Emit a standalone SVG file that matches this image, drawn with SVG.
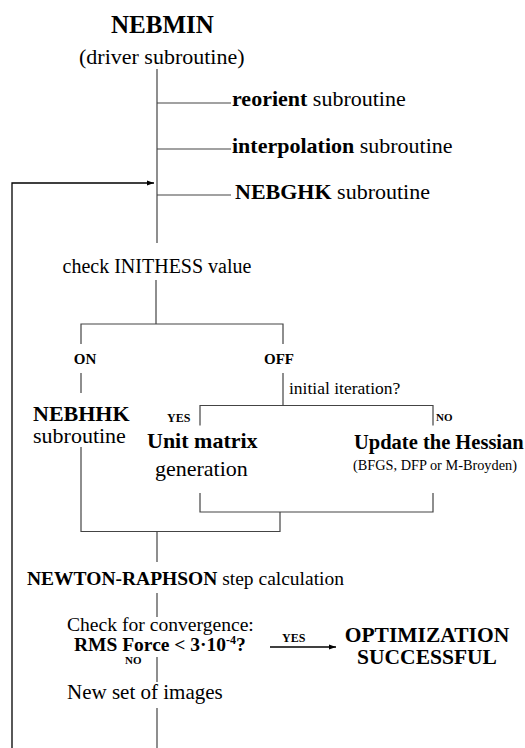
<svg xmlns="http://www.w3.org/2000/svg" width="525" height="748" viewBox="0 0 525 748" font-family="'Liberation Serif', Tinos, 'Noto Serif', 'DejaVu Serif', serif">
<style>
text{font-family:'Liberation Serif',Tinos,'Noto Serif','DejaVu Serif',serif;fill:#000}
.b{font-weight:bold}
.ln{stroke:#444;stroke-width:1.2;fill:none}
.ar{stroke:#000;stroke-width:1.3;fill:none}
</style>
<defs>
<marker id="ah" markerWidth="8" markerHeight="6" refX="7" refY="3" orient="auto" markerUnits="userSpaceOnUse">
<path d="M0,0.5 L7,3 L0,5.5 Z" fill="#000"/>
</marker>
</defs>
<rect width="525" height="748" fill="#fff"/>
<g id="connectors">
<path class="ln" d="M157,69 V243"/>
<path class="ln" d="M157,103 H231 M157,149 H231 M157,195 H231"/>
<path class="ar" d="M12,748 V183 H154" marker-end="url(#ah)"/>
<path class="ln" d="M156,280 V324 M81,344 V324 H283 V344"/>
<path class="ln" d="M81,373 V393 M283,373 V405.5"/>
<path class="ln" d="M200,425.5 V405.5 H433 V425.5"/>
<path class="ln" d="M200,493 V512 H433 V493 M280,512 V531.5 H81 V447"/>
<path class="ln" d="M157,531.5 V562"/>
<path class="ln" d="M157,593 V617"/>
<path class="ar" d="M270,647 H336" marker-end="url(#ah)"/>
<path class="ln" d="M157,657 V682"/>
<path class="ln" d="M157,708 V748"/>
</g>
<g id="nebmin">
<text class="b" x="111" y="33" font-size="25">NEBMIN</text>
<text x="79" y="64" font-size="22">(driver subroutine)</text>
</g>
<g id="reorient"><text x="232" y="106" font-size="22"><tspan class="b">reorient</tspan> subroutine</text></g>
<g id="interpolation"><text x="232" y="153" font-size="22"><tspan class="b">interpolation</tspan> subroutine</text></g>
<g id="nebghk"><text x="235" y="199" font-size="22"><tspan class="b">NEBGHK</tspan> subroutine</text></g>
<g id="check-inithess"><text x="157" y="273" font-size="20" text-anchor="middle">check INITHESS value</text></g>
<g id="on"><text class="b" x="85" y="364" font-size="15" text-anchor="middle">ON</text></g>
<g id="off"><text class="b" x="279" y="364" font-size="15" text-anchor="middle">OFF</text></g>
<g id="initial-iteration"><text x="289" y="394" font-size="17.5">initial iteration?</text></g>
<g id="yes1"><text class="b" x="167" y="421.5" font-size="12">YES</text></g>
<g id="no1"><text class="b" x="436" y="421" font-size="11">NO</text></g>
<g id="nebhhk">
<text class="b" x="33" y="421" font-size="22">NEBHHK</text>
<text x="33" y="443" font-size="22">subroutine</text>
</g>
<g id="unit-matrix">
<text class="b" x="147" y="448" font-size="22">Unit matrix</text>
<text x="155" y="476" font-size="22">generation</text>
</g>
<g id="update-hessian">
<text class="b" x="354" y="449" font-size="20.5">Update the Hessian</text>
<text x="353" y="470" font-size="14.3">(BFGS, DFP or M-Broyden)</text>
</g>
<g id="newton-raphson"><text x="27" y="585" font-size="19.5"><tspan class="b">NEWTON-RAPHSON</tspan> step calculation</text></g>
<g id="convergence">
<text x="67" y="631" font-size="19.6">Check for convergence:</text>
<text class="b" x="74" y="651" font-size="19.5">RMS Force &lt; 3·10<tspan font-size="12" dy="-7">-4</tspan><tspan dy="7">?</tspan></text>
</g>
<g id="yes2"><text class="b" x="282" y="642" font-size="12">YES</text></g>
<g id="optimization">
<text class="b" x="427" y="642" font-size="21.5" text-anchor="middle">OPTIMIZATION</text>
<text class="b" x="427" y="664" font-size="21.5" text-anchor="middle">SUCCESSFUL</text>
</g>
<g id="no2"><text class="b" x="125" y="664" font-size="11">NO</text></g>
<g id="new-images"><text x="67" y="699" font-size="21">New set of images</text></g>
</svg>
